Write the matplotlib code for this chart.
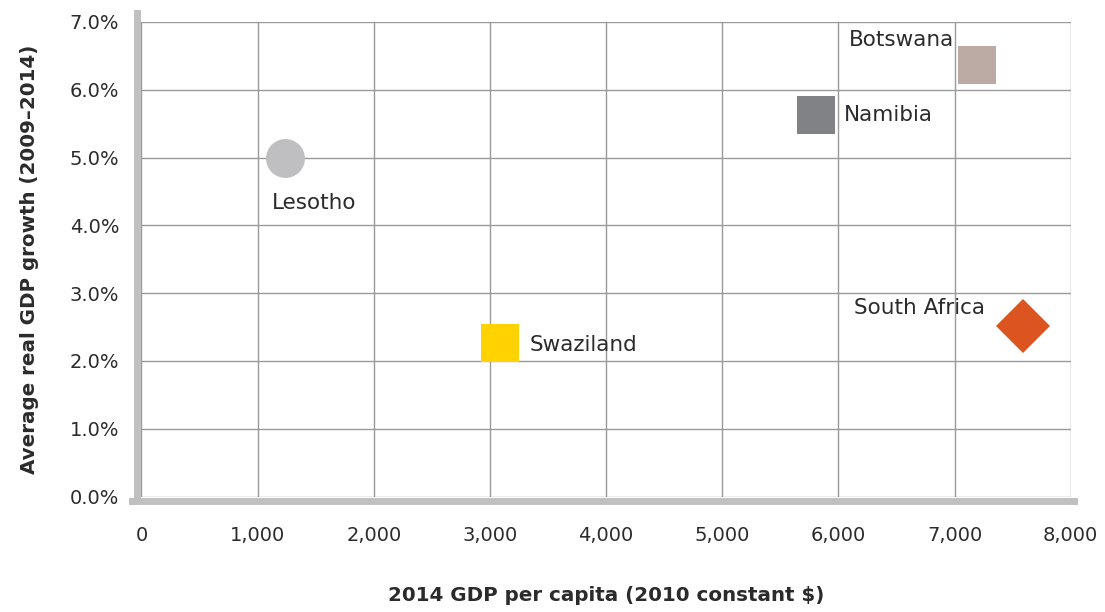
import matplotlib
matplotlib.use("Agg")
import matplotlib.pyplot as plt
from matplotlib.ticker import FuncFormatter, MultipleLocator

# values
countries = ["Lesotho", "Swaziland", "Namibia", "Botswana", "South Africa"]
gdp_per_capita = [1235, 3085, 5805, 7195, 7585]
gdp_growth = [5.0, 2.27, 5.63, 6.37, 2.52]

markers = ["o", "s", "s", "s", "D"]
colors = ["#bfbfc1", "#ffd200", "#818286", "#bcaba4", "#dc5420"]
sizes = [28, 27.5, 27.5, 27.5, 27]
# label placement relative to each marker, in pixels
label_offsets = [(-13, -45), (30, -2), (28, 0), (-23, 25), (-38, 18)]
label_ha = ["left", "left", "left", "right", "right"]

text_color = "#2b2b2b"
plt.rcParams["font.family"] = ["DejaVu Sans"]

fig = plt.figure(figsize=(11.05, 6.12), dpi=100)
ax = fig.add_axes([0.128, 0.1886, 0.841, 0.7755])

ax.set_xlim(0, 8000)
ax.set_ylim(0, 7.0)
ax.xaxis.set_major_locator(MultipleLocator(1000))
ax.yaxis.set_major_locator(MultipleLocator(1.0))
ax.xaxis.set_major_formatter(FuncFormatter(lambda v, _: f"{v:,.0f}"))
ax.yaxis.set_major_formatter(FuncFormatter(lambda v, _: f"{v:.1f}%"))
ax.grid(True, color="#9a9a9a", linewidth=1.0)
ax.set_axisbelow(True)

for name in ("top", "right"):
    ax.spines[name].set_visible(False)
for name in ("left", "bottom"):
    ax.spines[name].set_color("#c0c0c0")
    ax.spines[name].set_linewidth(5)
    ax.spines[name].set_position(("outward", 3))
ax.spines["left"].set_bounds(-0.05, 7.13)
ax.spines["bottom"].set_bounds(-80, 8030)

ax.tick_params(axis="both", length=0, labelsize=14, colors=text_color)
ax.tick_params(axis="y", pad=13)
ax.tick_params(axis="x", pad=18)

for i, name in enumerate(countries):
    ax.plot(gdp_per_capita[i], gdp_growth[i], marker=markers[i],
            markersize=sizes[i], color=colors[i], markeredgewidth=0,
            linestyle="none", zorder=3)
    ax.annotate(name, (gdp_per_capita[i], gdp_growth[i]),
                xytext=label_offsets[i], textcoords="offset pixels",
                ha=label_ha[i], va="center", fontsize=15.5,
                color=text_color, zorder=4)

ax.set_xlabel("2014 GDP per capita (2010 constant $)", fontsize=14.3,
              fontweight="bold", color=text_color, labelpad=30)
ax.set_ylabel("Average real GDP growth (2009\u20132014)", fontsize=14.3,
              fontweight="bold", color=text_color, labelpad=22)

fig.savefig("out.png", dpi=100)
